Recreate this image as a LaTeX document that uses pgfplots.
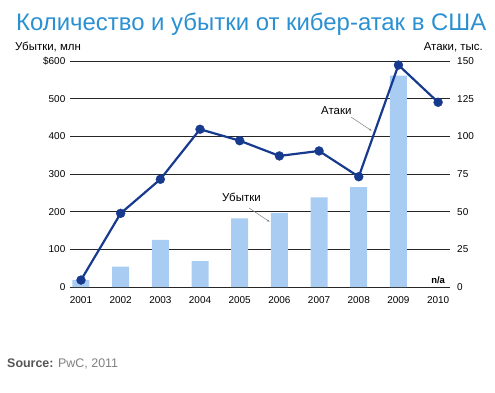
\documentclass[border=0pt]{standalone}
\usepackage{pgfplots}
\pgfplotsset{compat=1.18}
\usetikzlibrary{arrows.meta}
\usepackage{fontspec}
\setmainfont{Liberation Sans}
\definecolor{titleblue}{HTML}{2A90D2}
\definecolor{navy}{HTML}{173A8E}
\definecolor{barblue}{HTML}{A8CCF2}
\definecolor{srcgray}{HTML}{555555}
\begin{document}
\begin{tikzpicture}[x=1bp,y=1bp]
\path[use as bounding box] (0,0) rectangle (495,392);
\node[anchor=base west, inner sep=0, text=titleblue, font=\fontsize{24}{27}\selectfont] at (16,362) {Количество и убытки от кибер-атак в США};
\node[anchor=base west, inner sep=0, font=\fontsize{11.5}{13}\selectfont] at (15,342) {Убытки, млн};
\node[anchor=base east, inner sep=0, font=\fontsize{11.5}{13}\selectfont] at (483,342) {Атаки, тыс.};
\node[anchor=base west, inner sep=0, font=\fontsize{12.5}{14}\selectfont] at (7,25) {\textcolor{srcgray}{\bfseries Source:} \textcolor{gray}{PwC, 2011}};
\begin{axis}[
  at={(70bp,105bp)}, anchor=south west, scale only axis,
  width=380bp, height=226bp,
  xmin=-0.277, xmax=9.30, ymin=0, ymax=600,
  axis line style={draw=none},
  major tick length=0pt,
  xtick={0,...,9},
  xticklabels={2001,2002,2003,2004,2005,2006,2007,2008,2009,2010},
  ytick={0,100,...,600},
  yticklabels={0,100,200,300,400,500,\$600},
  ymajorgrids, grid style={black!85, line width=1pt},
  tick label style={font=\fontsize{10}{12}\selectfont},
  /pgf/number format/assume math mode=true,
  yticklabel style={inner sep=0pt, xshift=-4.5bp},
  xticklabel style={inner sep=0pt, yshift=-9bp},
  clip=false,
]
\addplot[ybar, bar width=17bp, fill=barblue, draw=none] coordinates {
 (0,18) (1,54) (2,125) (3,69) (4,182) (5,197) (6,238) (7,265) (8,561)
};
\node[anchor=base, inner sep=0, font=\bfseries\fontsize{9.5}{11}\selectfont] at (axis cs:9,10.5) {n/a};
\end{axis}
\begin{axis}[
  at={(70bp,105bp)}, anchor=south west, scale only axis,
  width=380bp, height=226bp,
  xmin=-0.277, xmax=9.30, ymin=0, ymax=150,
  axis x line=none, axis y line*=right,
  axis line style={draw=none},
  major tick length=0pt,
  ytick={0,25,...,150},
  tick label style={font=\fontsize{10}{12}\selectfont},
  /pgf/number format/assume math mode=true,
  yticklabel style={inner sep=0pt, anchor=west, xshift=7bp},
  clip=false,
]
\addplot[color=navy, line width=2.2pt, mark=*, mark size=4.5bp, mark options={solid, fill=navy, draw=navy, line width=0.3pt}] coordinates {
 (0,4.6) (1,48.9) (2,71.5) (3,104.7) (4,97.1) (5,87) (6,90.3) (7,73.2) (8,147.3) (9,122.6)
};
\end{axis}
\node[anchor=base west, inner sep=0, font=\fontsize{11.5}{13}\selectfont] at (321,278) {Атаки};
\draw[gray, line width=0.5pt, -{Latex[length=3bp,width=2bp]}] (351,275) -- (372,261);
\node[anchor=base west, inner sep=0, font=\fontsize{11.5}{13}\selectfont] at (222,191) {Убытки};
\draw[gray, line width=0.5pt, -{Latex[length=3bp,width=2bp]}] (249,184) -- (270,170);
\end{tikzpicture}
\end{document}
